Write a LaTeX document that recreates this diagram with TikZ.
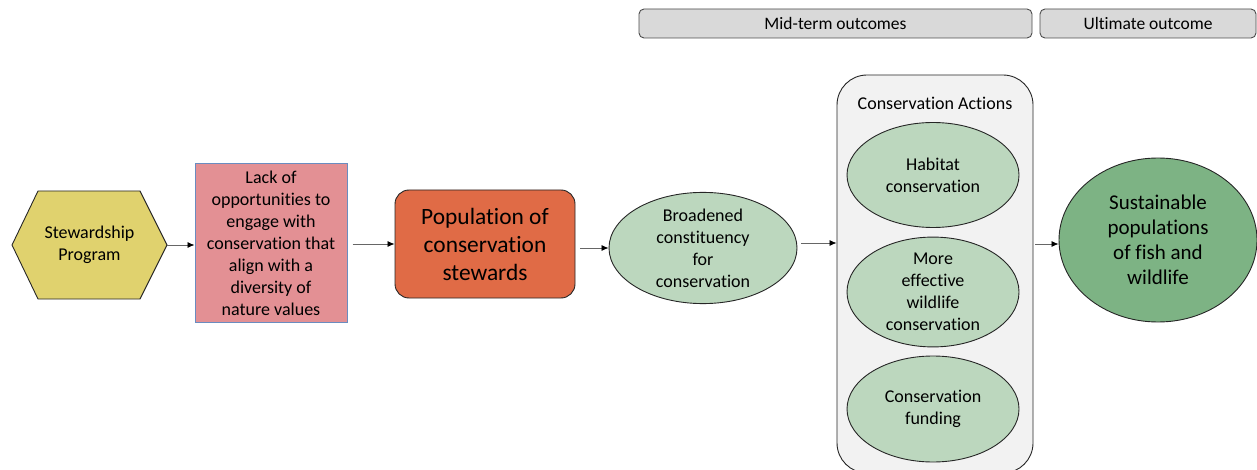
\documentclass[tikz,border=0pt]{standalone}
\usepackage{fontspec}
\setmainfont{Carlito}[Ligatures=NoCommon]
\usetikzlibrary{arrows.meta,shapes.geometric}
\definecolor{hexyellow}{HTML}{E0D26E}
\definecolor{pinkfill}{HTML}{E39094}
\definecolor{pinkline}{HTML}{6A8CC0}
\definecolor{orangefill}{HTML}{E06B46}
\definecolor{lightgreen}{HTML}{BCD7BE}
\definecolor{darkgreen}{HTML}{7DB384}
\definecolor{boxgray}{HTML}{F2F2F2}
\definecolor{hdrgray}{HTML}{D9D9D9}
\begin{document}
\begin{tikzpicture}[x=1pt,y=-1pt,
  every node/.style={font=\fontsize{18}{22}\selectfont, align=center, inner sep=0pt},
  outline/.style={draw=black!85, line width=0.9pt},
  conn/.style={draw=black!60, line width=0.8pt, -{Latex[length=7pt,width=6pt,color=black]}},
  hdr/.style={outline, draw=black!70, fill=hdrgray, rounded corners=5pt, minimum height=29pt, font=\fontsize{17.5}{21}\selectfont},
  pinkbox/.style={draw=pinkline, line width=1pt, fill=pinkfill, minimum width=152pt, minimum height=158pt},
  stewbox/.style={outline, fill=orangefill, rounded corners=14pt, minimum width=180pt, minimum height=108pt, font=\fontsize{23.4}{28}\selectfont},
  lgell/.style={outline, ellipse, fill=lightgreen},
  dgell/.style={outline, ellipse, fill=darkgreen, minimum width=198pt, minimum height=164pt, font=\fontsize{21}{25}\selectfont},
  container/.style={outline, fill=boxgray, rounded corners=30pt, minimum width=196pt, minimum height=398pt}
]
\useasboundingbox (0,0) rectangle (1257,470);

% header boxes
\node[hdr, minimum width=393pt] (mid) at (835.5,23.5) {Mid-term outcomes};
\node[hdr, minimum width=216pt] (ult) at (1148,23.5) {Ultimate outcome};

% hexagon
\draw[outline, fill=hexyellow] (12,245) -- (38,191) -- (140,191) -- (167,245) -- (140,299) -- (38,299) -- cycle;
\node[minimum width=155pt, minimum height=108pt] (sp) at (89.5,245) {Stewardship\\Program};

% lack of opportunities
\node[pinkbox] (lack) at (271,243) {Lack of\\opportunities to\\engage with\\conservation that\\align with a\\diversity of\\nature values};

% population
\node[stewbox] (pop) at (485,244) {Population of\\conservation\\stewards};

% broadened
\node[lgell, minimum width=188pt, minimum height=102pt] (bc) at (703,248) {Broadened\\constituency\\for\\conservation};

% container
\node[container] (ca) at (935,274) {};
\node (catitle) at (935,103) {Conservation Actions};
\node[lgell, minimum width=172pt, minimum height=105pt] (hab) at (933,175) {Habitat\\conservation};
\node[lgell, minimum width=172pt, minimum height=105pt] (eff) at (933,292) {More\\effective\\wildlife\\conservation};
\node[lgell, minimum width=172pt, minimum height=106pt] (fund) at (933,409) {Conservation\\funding};

% ultimate
\node[dgell] (sus) at (1158,240) {Sustainable\\populations\\of fish and\\wildlife};

% connectors
\draw[conn] (sp.east) -- (sp.east -| lack.west);
\draw[conn, shorten <=5pt] (lack.east |- pop.west) -- (pop.west);
\draw[conn, shorten <=5pt] (pop.east |- bc.west) -- (bc.west);
\draw[conn, shorten <=4pt] ([yshift=5pt]bc.east) -- ([yshift=5pt]bc.east -| ca.west);
\draw[conn, shorten <=2pt] (ca.east |- 0,244) -- (sus.west |- 0,244);
\end{tikzpicture}
\end{document}
